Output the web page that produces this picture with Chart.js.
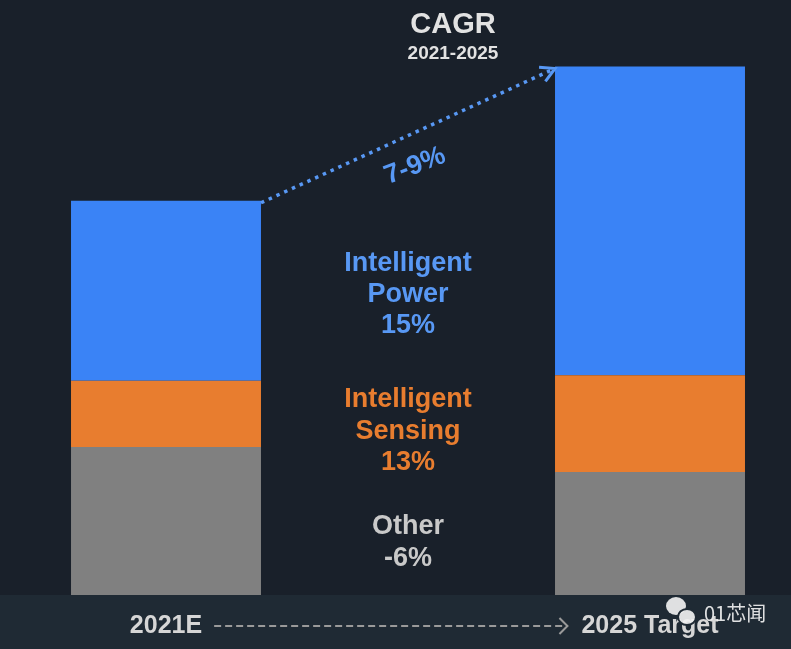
<!DOCTYPE html>
<html>
<head>
<meta charset="utf-8">
<script src="https://cdn.jsdelivr.net/npm/chart.js@4"></script>
<style>
  html, body { margin: 0; padding: 0; background: #19202a; }
  #wrap { width: 791px; height: 649px; position: relative; }
</style>
</head>
<body>
<div id="wrap"><canvas id="mixChart"></canvas></div>
<script>
// Categories (middle slot is empty, holds the CAGR notes)
const categories = ['2021E', '', '2025 Target'];

// Stacked segment sizes, left bar total = 100
const otherValues = [37.6, null, 31.2];
const sensingValues = [16.8, null, 24.6];
const powerValues = [45.7, null, 78.4];

// Middle notes
const powerNote = ['Intelligent', 'Power', '15%'];
const sensingNote = ['Intelligent', 'Sensing', '13%'];
const otherNote = ['Other', '-6%'];
const cagrTitle = 'CAGR';
const cagrPeriod = '2021-2025';
const cagrRange = '7-9%';

const BLUE = '#3a83f6';
const BLUE_TEXT = '#5898f4';
const ORANGE = '#e87d2f';
const GRAY = '#808080';
const SANS = "'Liberation Sans', Arial, sans-serif";
const NARROW = "'Liberation Sans Narrow', 'Liberation Sans', Arial, sans-serif";

const overlay = {
  id: 'overlay',
  beforeDraw(chart) {
    const { ctx, chartArea } = chart;
    ctx.save();
    ctx.fillStyle = '#19202a';
    ctx.fillRect(0, 0, chart.width, chart.height);
    // bottom band
    ctx.fillStyle = '#1f2a34';
    ctx.fillRect(0, chartArea.bottom, chart.width, chart.height - chartArea.bottom);
    ctx.restore();
  },
  afterDraw(chart) {
    const { ctx, chartArea, scales } = chart;
    const x = scales.x;
    const midX = x.getPixelForValue(1);
    ctx.save();
    ctx.textAlign = 'center';
    ctx.textBaseline = 'middle';

    // category labels in the band
    const labelY = chartArea.bottom + 31;
    ctx.font = 'bold 25px ' + NARROW;
    ctx.fillStyle = '#d6d6d6';
    ctx.fillText(categories[0], x.getPixelForValue(0), labelY);
    ctx.fillText(categories[2], x.getPixelForValue(2), labelY);

    // dashed arrow between the labels
    const leftW = ctx.measureText(categories[0]).width;
    const rightW = ctx.measureText(categories[2]).width;
    const ax0 = x.getPixelForValue(0) + leftW / 2 + 12;
    const ax1 = x.getPixelForValue(2) - rightW / 2 - 14;
    ctx.strokeStyle = '#9a9a9a';
    ctx.lineWidth = 2;
    ctx.setLineDash([7, 4]);
    ctx.beginPath();
    ctx.moveTo(ax0, labelY);
    ctx.lineTo(ax1, labelY);
    ctx.stroke();
    ctx.setLineDash([]);
    ctx.beginPath();
    ctx.moveTo(ax1 - 8, labelY - 8);
    ctx.lineTo(ax1, labelY);
    ctx.lineTo(ax1 - 8, labelY + 8);
    ctx.stroke();

    // notes in the middle
    ctx.font = 'bold 27px ' + SANS;
    const drawNote = (lines, top, color, gap) => {
      ctx.fillStyle = color;
      lines.forEach((t, i) => ctx.fillText(t, midX, top + i * gap));
    };
    drawNote(powerNote, 264, BLUE_TEXT, 31);
    drawNote(sensingNote, 400, ORANGE, 31.5);
    drawNote(otherNote, 527, '#c9c9c9', 32);

    // CAGR title
    ctx.fillStyle = '#e2e2e2';
    ctx.font = 'bold 29px ' + SANS;
    ctx.fillText(cagrTitle, midX + 45, 25);
    ctx.font = 'bold 19px ' + SANS;
    ctx.fillText(cagrPeriod, midX + 45, 54);

    // dotted growth arrow from top of left stack to top of right stack
    const leftTop = chart.getDatasetMeta(2).data[0];
    const rightTop = chart.getDatasetMeta(2).data[2];
    const p0 = { x: leftTop.x + leftTop.width / 2, y: leftTop.y + 2 };
    const p1 = { x: rightTop.x - rightTop.width / 2, y: rightTop.y + 2 };
    ctx.strokeStyle = BLUE_TEXT;
    ctx.lineWidth = 3.5;
    ctx.setLineDash([3.5, 5]);
    ctx.beginPath();
    ctx.moveTo(p0.x, p0.y);
    ctx.lineTo(p1.x, p1.y);
    ctx.stroke();
    ctx.setLineDash([]);
    const ang = Math.atan2(p1.y - p0.y, p1.x - p0.x);
    ctx.lineWidth = 3;
    ctx.beginPath();
    ctx.moveTo(p1.x - 16 * Math.cos(ang - 0.5), p1.y - 16 * Math.sin(ang - 0.5));
    ctx.lineTo(p1.x, p1.y);
    ctx.lineTo(p1.x - 16 * Math.cos(ang + 0.5), p1.y - 16 * Math.sin(ang + 0.5));
    ctx.stroke();

    // rotated range label
    ctx.save();
    ctx.translate(415, 166);
    ctx.rotate(-0.37);
    ctx.fillStyle = BLUE_TEXT;
    ctx.font = 'bold 27px ' + NARROW;
    ctx.fillText(cagrRange, 0, 0);
    ctx.restore();

    // watermark
    ctx.fillStyle = 'rgba(240,240,240,0.92)';
    ctx.beginPath();
    ctx.ellipse(676, 606, 10, 9, 0, 0, Math.PI * 2);
    ctx.fill();
    ctx.strokeStyle = '#1f2a34';
    ctx.lineWidth = 2;
    ctx.beginPath();
    ctx.ellipse(687, 617, 9, 8, 0, 0, Math.PI * 2);
    ctx.fill();
    ctx.stroke();
    ctx.font = '20px ' + "'Noto Sans CJK SC', sans-serif";
    ctx.textAlign = 'left';
    ctx.fillText('01芯闻', 704, 613);
    ctx.restore();
  }
};

new Chart(document.getElementById('mixChart'), {
  type: 'bar',
  data: {
    labels: categories,
    datasets: [
      { label: 'Other', data: otherValues, backgroundColor: GRAY },
      { label: 'Intelligent Sensing', data: sensingValues, backgroundColor: ORANGE },
      { label: 'Intelligent Power', data: powerValues, backgroundColor: BLUE },
    ],
  },
  options: {
    responsive: true,
    maintainAspectRatio: false,
    animation: false,
    layout: { padding: { left: 45, right: 20, top: 20, bottom: 54 } },
    datasets: { bar: { categoryPercentage: 1, barPercentage: 0.785, borderWidth: 0 } },
    plugins: { legend: { display: false }, tooltip: { enabled: false } },
    scales: {
      x: { stacked: true, display: false },
      y: { stacked: true, display: false, min: 0, max: 146 },
    },
  },
  plugins: [overlay],
});
</script>
</body>
</html>
